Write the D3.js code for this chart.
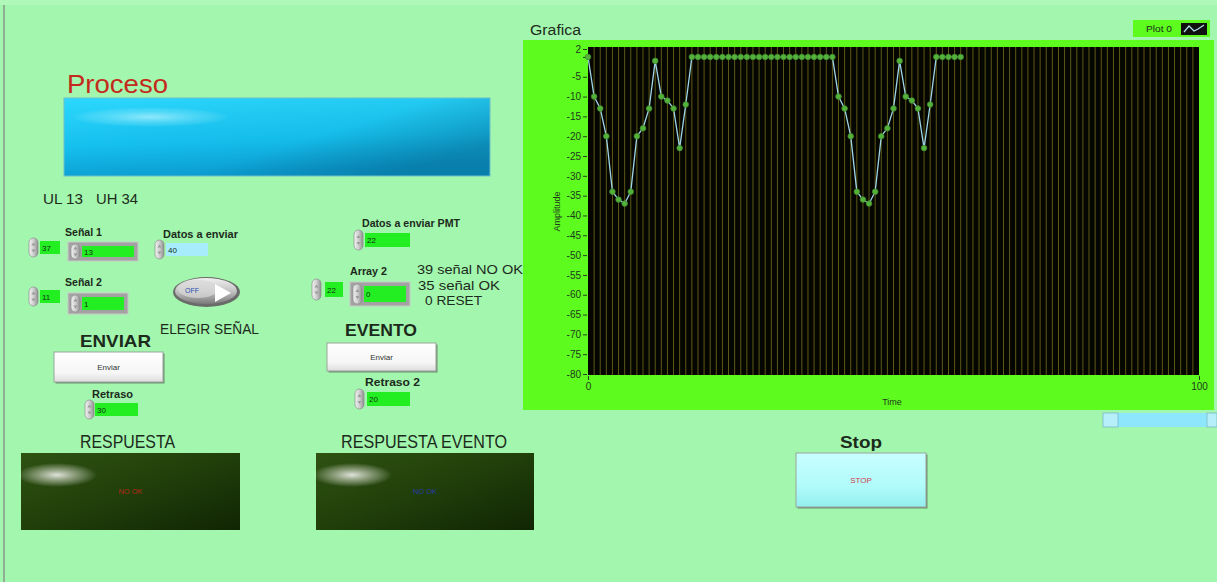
<!DOCTYPE html>
<html>
<head>
<meta charset="utf-8">
<script src="https://cdn.jsdelivr.net/npm/d3@7"></script>
<style>
  body { margin: 0; background: #a3f6ad; overflow: hidden; }
  text { font-family: "Liberation Sans", Arial, sans-serif; }
</style>
</head>
<body>
<div id="chart"></div>
<script>
// waveform, one sample per time step
const amplitude = [
  0, -10, -13, -20, -34, -36, -37, -34, -20, -18, -13, -1, -10, -11, -13, -23, -12, 0,
  0, 0, 0, 0, 0, 0, 0, 0, 0, 0, 0, 0, 0, 0, 0, 0, 0, 0, 0, 0, 0, 0, 0,
  -10, -13, -20, -34, -36, -37, -34, -20, -18, -13, -1, -10, -11, -13, -23, -12, 0,
  0, 0, 0, 0
];
const yTickValues = [2, -5, -10, -15, -20, -25, -30, -35, -40, -45, -50, -55, -60, -65, -70, -75, -80];
const xTickValues = [0, 100];
const xDomain = [0, 100];
const yDomain = [-80, 2];

const width = 1217;
const height = 582;

const svg = d3.create('svg')
  .attr('width', width)
  .attr('height', height);

d3.select('#chart').append(() => svg.node());

const defs = svg.append('defs');

function linGrad(id, x2, y2, stops) {
  const g = defs.append('linearGradient').attr('id', id)
    .attr('x1', 0).attr('y1', 0).attr('x2', x2).attr('y2', y2);
  stops.forEach(s => g.append('stop').attr('offset', s[0]).attr('stop-color', s[1]).attr('stop-opacity', s[2] == null ? 1 : s[2]));
}
function radGrad(id, stops) {
  const g = defs.append('radialGradient').attr('id', id);
  stops.forEach(s => g.append('stop').attr('offset', s[0]).attr('stop-color', s[1]).attr('stop-opacity', s[2]));
}

linGrad('barGrad', 0.2, 1, [[0, '#2cd8fd'], [0.6, '#16c4f3'], [1, '#0ca4da']]);
linGrad('barShade', 1, 0.6, [[0, '#000', 0], [0.65, '#002a40', 0.05], [1, '#00304a', 0.32]]);
linGrad('respGrad', 1, 1, [[0, '#2f5212'], [0.5, '#203f0a'], [1, '#112504']]);
linGrad('spinGrad', 1, 0, [[0, '#f2f2f2'], [0.5, '#cfcfcf'], [1, '#8e8e8e']]);
linGrad('btnGrad', 0, 1, [[0, '#ffffff'], [0.7, '#f6f6f6'], [1, '#dcdcdc']]);
linGrad('stopGrad', 0, 1, [[0, '#c8fefe'], [0.6, '#b2fbfb'], [1, '#94eeee']]);
linGrad('togGrad', 0, 1, [[0, '#f0f0f0'], [0.5, '#c4c4c4'], [1, '#7a7a7a']]);
radGrad('glow', [[0, '#ffffff', 0.85], [0.5, '#f0f0e8', 0.45], [1, '#ffffff', 0]]);
radGrad('glowSoft', [[0, '#d8fbff', 0.6], [0.6, '#c0f6ff', 0.25], [1, '#ffffff', 0]]);

// page frame
svg.append('rect').attr('x', 0).attr('y', 0).attr('width', width).attr('height', height).attr('fill', '#a3f6ad');
svg.append('rect').attr('x', 0).attr('y', 0).attr('width', width).attr('height', 5).attr('fill', '#b0f8b9');
svg.append('rect').attr('x', 3).attr('y', 5).attr('width', 2).attr('height', height - 5).attr('fill', '#8fae92');

function txt(x, y, s, o = {}) {
  const t = svg.append('text')
    .attr('x', x)
    .attr('y', y)
    .attr('font-size', o.size || 10)
    .attr('font-weight', o.bold ? 'bold' : 'normal')
    .attr('fill', o.fill || '#1c2a1c')
    .attr('text-anchor', o.anchor || 'start')
    .text(s);
  if (o.family) t.attr('font-family', o.family);
  if (o.width) t.attr('textLength', o.width).attr('lengthAdjust', 'spacingAndGlyphs');
  return t;
}

function spinner(x, y, h) {
  svg.append('rect').attr('x', x).attr('y', y).attr('width', 9).attr('height', h).attr('rx', 4.5)
    .attr('fill', 'url(#spinGrad)').attr('stroke', '#8c8c8c').attr('stroke-width', 0.7);
  const cx = x + 4.5;
  svg.append('path').attr('d', `M${cx - 2},${y + h / 2 - 2} L${cx},${y + h / 2 - 5} L${cx + 2},${y + h / 2 - 2} Z`).attr('fill', '#9a9a9a');
  svg.append('path').attr('d', `M${cx - 2},${y + h / 2 + 2} L${cx},${y + h / 2 + 5} L${cx + 2},${y + h / 2 + 2} Z`).attr('fill', '#9a9a9a');
}

function field(x, y, w, h, value, fill) {
  svg.append('rect').attr('x', x).attr('y', y).attr('width', w).attr('height', h)
    .attr('fill', fill || '#22ee22');
  txt(x + 2, y + h / 2 + 3, value, { size: 8, fill: '#143014' });
}

function numeric(sx, fx, y, fw, h, value, fill) {
  spinner(sx, y - 3, h + 6);
  field(fx, y, fw, h, value, fill);
}

function arrayCtl(x, y, w, h, value) {
  svg.append('rect').attr('x', x).attr('y', y).attr('width', w).attr('height', h)
    .attr('fill', '#a2a2a2').attr('stroke', '#c9c9c9').attr('stroke-width', 1);
  spinner(x + 3, y + 2, h - 4);
  field(x + 14, y + 4, w - 18, h - 8, value);
}

function button(x, y, w, h, label, fill, color) {
  svg.append('rect').attr('x', x + 1.5).attr('y', y + 1.5).attr('width', w).attr('height', h).attr('fill', '#6f8f73');
  svg.append('rect').attr('x', x).attr('y', y).attr('width', w).attr('height', h)
    .attr('fill', fill).attr('stroke', '#9aa59a').attr('stroke-width', 1);
  txt(x + w / 2, y + h / 2 + 3, label, { size: 8, fill: color, anchor: 'middle' });
}

function lamp(x, y, w, h, label, color) {
  svg.append('rect').attr('x', x).attr('y', y).attr('width', w).attr('height', h).attr('fill', 'url(#respGrad)');
  svg.append('ellipse').attr('cx', x + 36).attr('cy', y + 22).attr('rx', 40).attr('ry', 12).attr('fill', 'url(#glow)');
  txt(x + w / 2, y + h / 2 + 2, label, { size: 7.5, fill: color, anchor: 'middle' });
}

// ---- left column ----
txt(67, 93, 'Proceso', { size: 25, fill: '#c42a1c', width: 101 });
svg.append('rect').attr('x', 64).attr('y', 98).attr('width', 426).attr('height', 78).attr('fill', 'url(#barGrad)');
svg.append('rect').attr('x', 64).attr('y', 98).attr('width', 426).attr('height', 78).attr('fill', 'url(#barShade)');
svg.append('ellipse').attr('cx', 150).attr('cy', 117).attr('rx', 80).attr('ry', 10).attr('fill', 'url(#glowSoft)');
svg.append('rect').attr('x', 64).attr('y', 98).attr('width', 426).attr('height', 78)
  .attr('fill', 'none').attr('stroke', '#6cc0cc').attr('stroke-width', 1);

txt(43, 204, 'UL 13', { size: 14, width: 40 });
txt(96, 204, 'UH 34', { size: 14, width: 42 });

txt(65, 236, 'Señal 1', { size: 10, bold: true, width: 37 });
numeric(29, 40, 241, 20, 13, '37');
arrayCtl(68, 242, 70, 19, '13');

txt(163, 238, 'Datos a enviar', { size: 10, bold: true, width: 75 });
numeric(155, 166, 243, 42, 13, '40', '#a6ecfb');

txt(65, 286, 'Señal 2', { size: 10, bold: true, width: 37 });
numeric(29, 40, 290, 20, 13, '11');
arrayCtl(68, 293, 60, 21, '1');

// boolean switch
svg.append('ellipse').attr('cx', 206.5).attr('cy', 292).attr('rx', 33.5).attr('ry', 15)
  .attr('fill', '#6a6a6a');
svg.append('ellipse').attr('cx', 206).attr('cy', 291).attr('rx', 31).attr('ry', 13)
  .attr('fill', 'url(#togGrad)');
svg.append('ellipse').attr('cx', 198).attr('cy', 289).attr('rx', 20).attr('ry', 9)
  .attr('fill', '#d8d8d8').attr('opacity', 0.7);
txt(185, 293, 'OFF', { size: 8, fill: '#2a4fb0', width: 14 });
svg.append('path').attr('d', 'M215,284 L231,293 L215,302 Z').attr('fill', '#ffffff');

txt(160, 334, 'ELEGIR SEÑAL', { size: 15, width: 99 });
txt(80, 347, 'ENVIAR', { size: 17, bold: true, width: 71 });
button(54, 352, 109, 30, 'Enviar', 'url(#btnGrad)', '#333');
txt(92, 398, 'Retraso', { size: 10, bold: true, width: 41 });
numeric(85, 95, 403, 43, 13, '30');

// ---- middle column ----
txt(362, 227, 'Datos a enviar PMT', { size: 10, bold: true, width: 98 });
numeric(354, 365, 233, 45, 14, '22');
txt(350, 275, 'Array 2', { size: 10, bold: true, width: 37 });
numeric(312, 325, 282, 18, 15, '22');
arrayCtl(350, 282, 60, 24, '0');
txt(417, 274, '39 señal NO OK', { size: 13.5, width: 106 });
txt(418, 290, '35 señal OK', { size: 13.5, width: 82 });
txt(425, 305, '0 RESET', { size: 13.5, width: 57 });
txt(345, 336, 'EVENTO', { size: 17, bold: true, width: 72 });
button(327, 343, 109, 28, 'Enviar', 'url(#btnGrad)', '#333');
txt(365, 386, 'Retraso 2', { size: 10, bold: true, width: 55 });
numeric(355, 367, 392, 43, 14, '20');

// ---- bottom indicators ----
txt(80, 448, 'RESPUESTA', { size: 18, width: 95, family: '"Liberation Sans Narrow", "Liberation Sans", sans-serif' });
lamp(21, 453, 219, 77, 'NO OK', '#b8281a');
txt(341, 448, 'RESPUESTA EVENTO', { size: 18, width: 166, family: '"Liberation Sans Narrow", "Liberation Sans", sans-serif' });
lamp(316, 453, 218, 77, 'NO OK', '#2a3aa8');

txt(840, 448, 'Stop', { size: 17, bold: true, width: 42 });
button(796, 453, 130, 54, 'STOP', 'url(#stopGrad)', '#d0404a');

// ---- graph ----
svg.append('rect').attr('x', 523).attr('y', 40).attr('width', 691).attr('height', 370).attr('fill', '#5dfc1e');
txt(530, 35, 'Grafica', { size: 14, width: 51 });

// legend
svg.append('rect').attr('x', 1133).attr('y', 20).attr('width', 77).attr('height', 17).attr('fill', '#5dfc1e');
txt(1146, 32, 'Plot 0', { size: 9, width: 26 });
svg.append('rect').attr('x', 1181).attr('y', 23).attr('width', 26).attr('height', 12).attr('fill', '#101010');
svg.append('path').attr('d', 'M1184,32 L1189,26 L1194,31 L1198,29 L1204,25')
  .attr('fill', 'none').attr('stroke', '#b0e0f0').attr('stroke-width', 1.2);

// scrollbar
svg.append('rect').attr('x', 1103).attr('y', 413).attr('width', 114).attr('height', 14).attr('fill', '#8ee6fc');
svg.append('rect').attr('x', 1103).attr('y', 413).attr('width', 15).attr('height', 14).attr('fill', '#b6eefa').attr('stroke', '#7ab8c8').attr('stroke-width', 0.8);
svg.append('rect').attr('x', 1207).attr('y', 413).attr('width', 10).attr('height', 14).attr('fill', '#b6eefa').attr('stroke', '#7ab8c8').attr('stroke-width', 0.8);

const xScale = d3.scaleLinear().domain(xDomain).range([588, 1199]);
const yScale = d3.scaleLinear().domain(yDomain).range([374, 49]);

svg.append('rect')
  .attr('x', xScale(0)).attr('y', yScale(2) - 2)
  .attr('width', xScale(100) - xScale(0))
  .attr('height', yScale(-80) - yScale(2) + 3)
  .attr('fill', '#060600');

svg.append('g')
  .selectAll('line')
  .data(d3.range(1, 100))
  .join('line')
  .attr('x1', d => xScale(d)).attr('x2', d => xScale(d))
  .attr('y1', yScale(2) - 2).attr('y2', yScale(-80) + 1)
  .attr('stroke', '#5e5a18')
  .attr('stroke-width', 1);

const tickFmt = d => String(d);

svg.append('g')
  .attr('transform', `translate(${xScale(0) - 1},0)`)
  .call(d3.axisLeft(yScale).tickValues(yTickValues).tickSize(4).tickPadding(2).tickFormat(tickFmt));
svg.append('g')
  .attr('transform', `translate(${xScale(0) - 1},0)`)
  .call(d3.axisLeft(yScale).tickValues([0]).tickSize(4).tickFormat(''));

svg.append('g')
  .attr('transform', `translate(0,${yScale(-80) + 2})`)
  .call(d3.axisBottom(xScale).tickValues(xTickValues).tickSize(4).tickPadding(3).tickFormat(tickFmt));

svg.selectAll('.domain').remove();
svg.selectAll('.tick line').attr('stroke', '#24401f');
svg.selectAll('.tick text')
  .attr('fill', '#1e3a1e')
  .attr('font-size', 10)
  .attr('font-family', '"DejaVu Sans Condensed", "Liberation Sans", sans-serif');

svg.append('text')
  .attr('transform', `translate(560,${(yScale(2) + yScale(-80)) / 2}) rotate(-90)`)
  .attr('text-anchor', 'middle')
  .attr('font-size', 9)
  .attr('fill', '#1e3a1e')
  .attr('font-family', '"DejaVu Sans Condensed", "Liberation Sans", sans-serif')
  .text('Amplitude');

svg.append('text')
  .attr('x', 892)
  .attr('y', 405)
  .attr('text-anchor', 'middle')
  .attr('font-size', 9)
  .attr('fill', '#1e3a1e')
  .attr('font-family', '"DejaVu Sans Condensed", "Liberation Sans", sans-serif')
  .text('Time');

const line = d3.line()
  .x((d, i) => xScale(i))
  .y(d => yScale(d));

svg.append('path')
  .datum(amplitude)
  .attr('d', line)
  .attr('fill', 'none')
  .attr('stroke', '#9fd6ea')
  .attr('stroke-width', 1.3);

svg.append('g')
  .selectAll('circle')
  .data(amplitude)
  .join('circle')
  .attr('cx', (d, i) => xScale(i))
  .attr('cy', d => yScale(d))
  .attr('r', 2.8)
  .attr('fill', '#55b23c')
  .attr('stroke', '#3c8a2a')
  .attr('stroke-width', 0.8);
</script>
</body>
</html>
